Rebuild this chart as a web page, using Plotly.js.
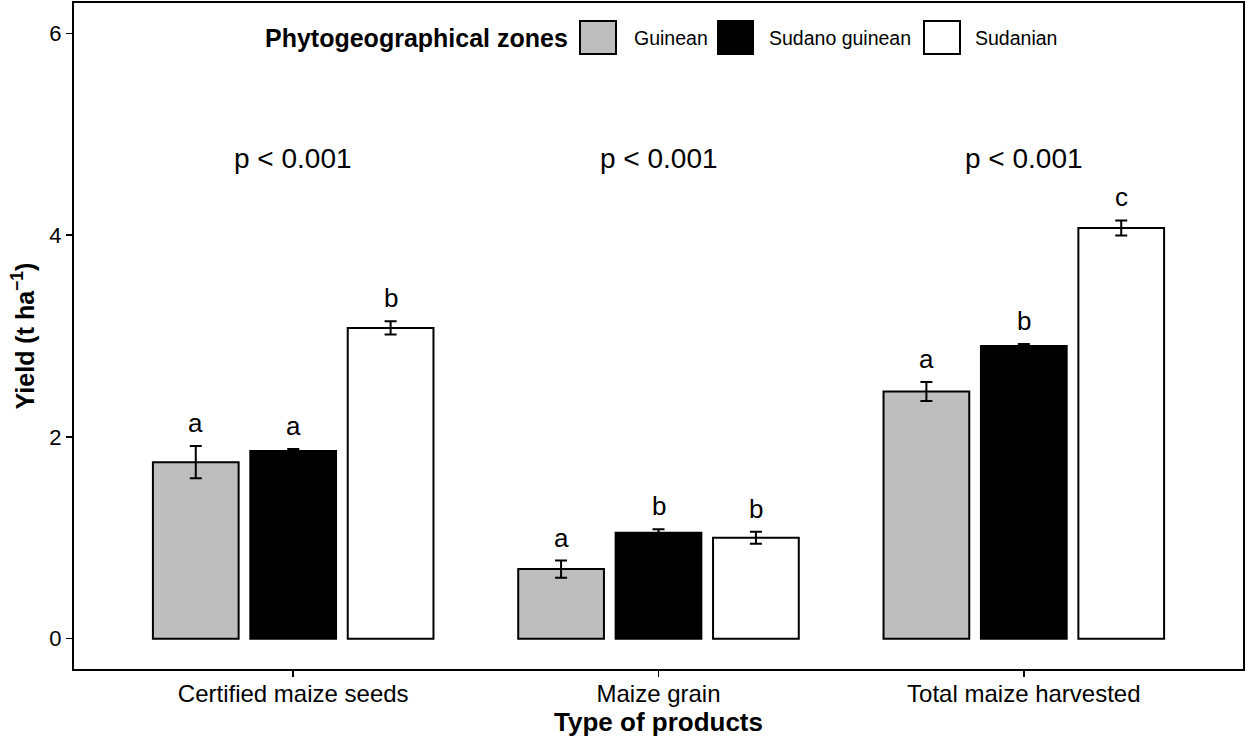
<!DOCTYPE html>
<html>
<head>
<meta charset="utf-8">
<script src="https://cdn.plot.ly/plotly-3.0.1.min.js"></script>
<style>html,body{margin:0;padding:0;background:#fff;}#chart{width:1248px;height:743px;}</style>
</head>
<body>
<div id="chart"></div>
<script>
var categories = ['Certified maize seeds', 'Maize grain', 'Total maize harvested'];
var zones = ['Guinean', 'Sudano guinean', 'Sudanian'];
var guinean = [1.75, 0.69, 2.45];
var guineanErr = [0.16, 0.085, 0.095];
var sudanoGuinean = [1.86, 1.05, 2.90];
var sudanoGuineanErr = [0.02, 0.035, 0.02];
var sudanian = [3.08, 1.00, 4.07];
var sudanianErr = [0.065, 0.06, 0.075];
var guineanLetters = ['a', 'a', 'a'];
var sudanoGuineanLetters = ['a', 'b', 'b'];
var sudanianLetters = ['b', 'b', 'c'];
var pValues = ['p < 0.001', 'p < 0.001', 'p < 0.001'];
var pValueY = 4.76;
var fills = ['#BEBEBE', '#000000', '#FFFFFF'];

var FONT = 'Liberation Sans, Arial, sans-serif';
var series = [guinean, sudanoGuinean, sudanian];
var errs = [guineanErr, sudanoGuineanErr, sudanianErr];
var letters = [guineanLetters, sudanoGuineanLetters, sudanianLetters];

var traces = series.map(function (vals, i) {
  return {
    type: 'bar', name: zones[i], x: categories, y: vals,
    marker: {color: fills[i], line: {color: '#000', width: 2}},
    error_y: {type: 'data', array: errs[i], visible: true, color: '#000', thickness: 2, width: 6},
    showlegend: false, hoverinfo: 'y'
  };
});

var bargap = 0.2, slot = (1 - bargap) / 3;
var annotations = [];
letters.forEach(function (arr, i) {
  arr.forEach(function (t, j) {
    annotations.push({
      x: j + (i - 1) * slot, y: series[i][j] + errs[i][j], xref: 'x', yref: 'y',
      text: t, showarrow: false, yanchor: 'bottom', yshift: 6,
      font: {family: FONT, size: 26, color: '#000'}
    });
  });
});
pValues.forEach(function (t, j) {
  annotations.push({
    x: j, y: pValueY, xref: 'x', yref: 'y', text: t, showarrow: false,
    font: {family: FONT, size: 28, color: '#000'}
  });
});

// custom legend (pixel layout converted to paper coords)
var L = 74, R = 1243, T = 3, B = 669;
function px(x) { return (x - L) / (R - L); }
function py(y) { return (B - y) / (B - T); }
var legendY0 = 21, legendY1 = 54, legendMid = 37.5;
var legendBoxes = [[580, 616], [718, 753], [924, 960]];
var legendTextX = [632, 767, 973];
var shapes = [];
zones.forEach(function (z, i) {
  shapes.push({type: 'rect', xref: 'paper', yref: 'paper',
    x0: px(legendBoxes[i][0]), x1: px(legendBoxes[i][1]), y0: py(legendY1), y1: py(legendY0),
    fillcolor: fills[i], line: {color: '#000', width: 2}});
  annotations.push({xref: 'paper', yref: 'paper', x: px(legendTextX[i]), y: py(legendMid),
    xanchor: 'left', yanchor: 'middle', text: z, showarrow: false,
    font: {family: FONT, size: 19.5, color: '#000'}});
});
annotations.push({xref: 'paper', yref: 'paper', x: px(570), y: py(legendMid),
  xanchor: 'right', yanchor: 'middle', text: '<b>Phytogeographical zones</b>', showarrow: false,
  font: {family: FONT, size: 25, color: '#000'}});

var layout = {
  width: 1248, height: 743,
  margin: {l: L, r: 1248 - R, t: T, b: 743 - B},
  paper_bgcolor: '#fff', plot_bgcolor: '#fff',
  barmode: 'group', bargap: bargap, bargroupgap: 0.12,
  showlegend: false,
  xaxis: {
    type: 'category', range: [-0.6, 2.6],
    showline: true, mirror: true, linecolor: '#000', linewidth: 2,
    ticks: 'outside', ticklen: 6, tickwidth: 1.5, tickcolor: '#000',
    ticklabelstandoff: -4,
    tickfont: {family: FONT, size: 24, color: '#000'},
    title: {text: '<b>Type of products</b>', font: {family: FONT, size: 26, color: '#000'}, standoff: 4},
    showgrid: false, zeroline: false, automargin: false
  },
  yaxis: {
    range: [-0.3, 6.3], tickvals: [0, 2, 4, 6],
    showline: true, mirror: true, linecolor: '#000', linewidth: 2,
    ticks: 'outside', ticklen: 6, tickwidth: 1.5, tickcolor: '#000',
    tickfont: {family: FONT, size: 22, color: '#000'},
    title: {text: '<b>Yield (t ha<sup>−1</sup>)</b>', font: {family: FONT, size: 25, color: '#000'}, standoff: 8},
    showgrid: false, zeroline: false, automargin: false
  },
  shapes: shapes,
  annotations: annotations
};

Plotly.newPlot('chart', traces, layout, {displayModeBar: false, staticPlot: true});
</script>
</body>
</html>
